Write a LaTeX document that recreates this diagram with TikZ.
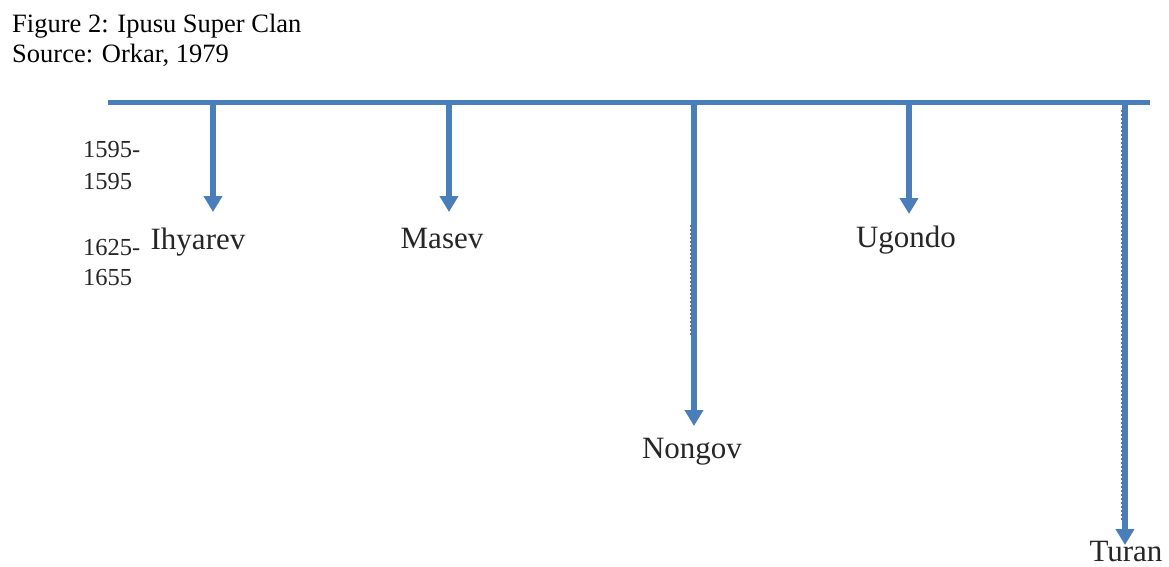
\documentclass[tikz,border=0pt]{standalone}
\usepackage{fontspec}
\setmainfont{Liberation Serif}
\usetikzlibrary{arrows.meta}
\definecolor{barblue}{RGB}{74,126,187}
\tikzset{
  captiontext/.style={anchor=base west, inner sep=0pt, font=\fontsize{26.5}{31}\selectfont},
  datetext/.style={anchor=base west, inner sep=0pt, font=\fontsize{24.5}{29}\selectfont, text=black!85},
  clanlabel/.style={anchor=base, inner sep=0pt, font=\fontsize{31}{36}\selectfont, text=black!85},
  bar/.style={draw=barblue, line width=5pt},
  descent/.style={draw=barblue, line width=6pt, -{Triangle[width=18pt,length=16pt]}},
  speckle/.style={draw=black!55, line width=1.2pt, dash pattern=on 2pt off 2pt}
}
\begin{document}
\begin{tikzpicture}[x=1pt,y=-1pt]
\useasboundingbox (0,0) rectangle (1169,566);
% caption
\node[captiontext] (title) at (12,32) {Figure 2: Ipusu Super Clan};
\node[captiontext] (source) at (12,62) {Source: Orkar, 1979};
% dates
\node[datetext] (d1) at (83,157) {1595-};
\node[datetext] (d2) at (83,189) {1595};
\node[datetext] (d3) at (83,255) {1625-};
\node[datetext] (d4) at (83,285) {1655};
% bar
\coordinate (barL) at (108,102);
\coordinate (barR) at (1150,102);
\draw[bar] (barL) -- (barR);
% branch points
\coordinate (bI) at (213,100);
\coordinate (bM) at (449,100);
\coordinate (bN) at (694,100);
\coordinate (bU) at (909,100);
\coordinate (bT) at (1125,100);
% tips
\coordinate (tI) at (213,212);
\coordinate (tM) at (449,212);
\coordinate (tN) at (694,426);
\coordinate (tU) at (909,214);
\coordinate (tT) at (1125,545);
% labels
\node[clanlabel] (Ihyarev) at (198,249) {Ihyarev};
\node[clanlabel] (Masev) at (442,248) {Masev};
\node[clanlabel] (Nongov) at (692,458) {Nongov};
\node[clanlabel] (Ugondo) at (906,247) {Ugondo};
\node[clanlabel] (Turan) at (1126,561) {Turan};
% arrows
\draw[descent] (bI) -- (tI);
\draw[descent] (bM) -- (tM);
\draw[descent] (bN) -- (tN);
\draw[descent] (bU) -- (tU);
\draw[descent] (bT) -- (tT);
% scan speckle on long shafts
\coordinate (sN1) at (691,225);
\coordinate (sN2) at (691,335);
\coordinate (sT1) at (1122,110);
\coordinate (sT2) at (1122,520);
\draw[speckle] (sN1) -- (sN2);
\draw[speckle] (sT1) -- (sT2);
\end{tikzpicture}
\end{document}
